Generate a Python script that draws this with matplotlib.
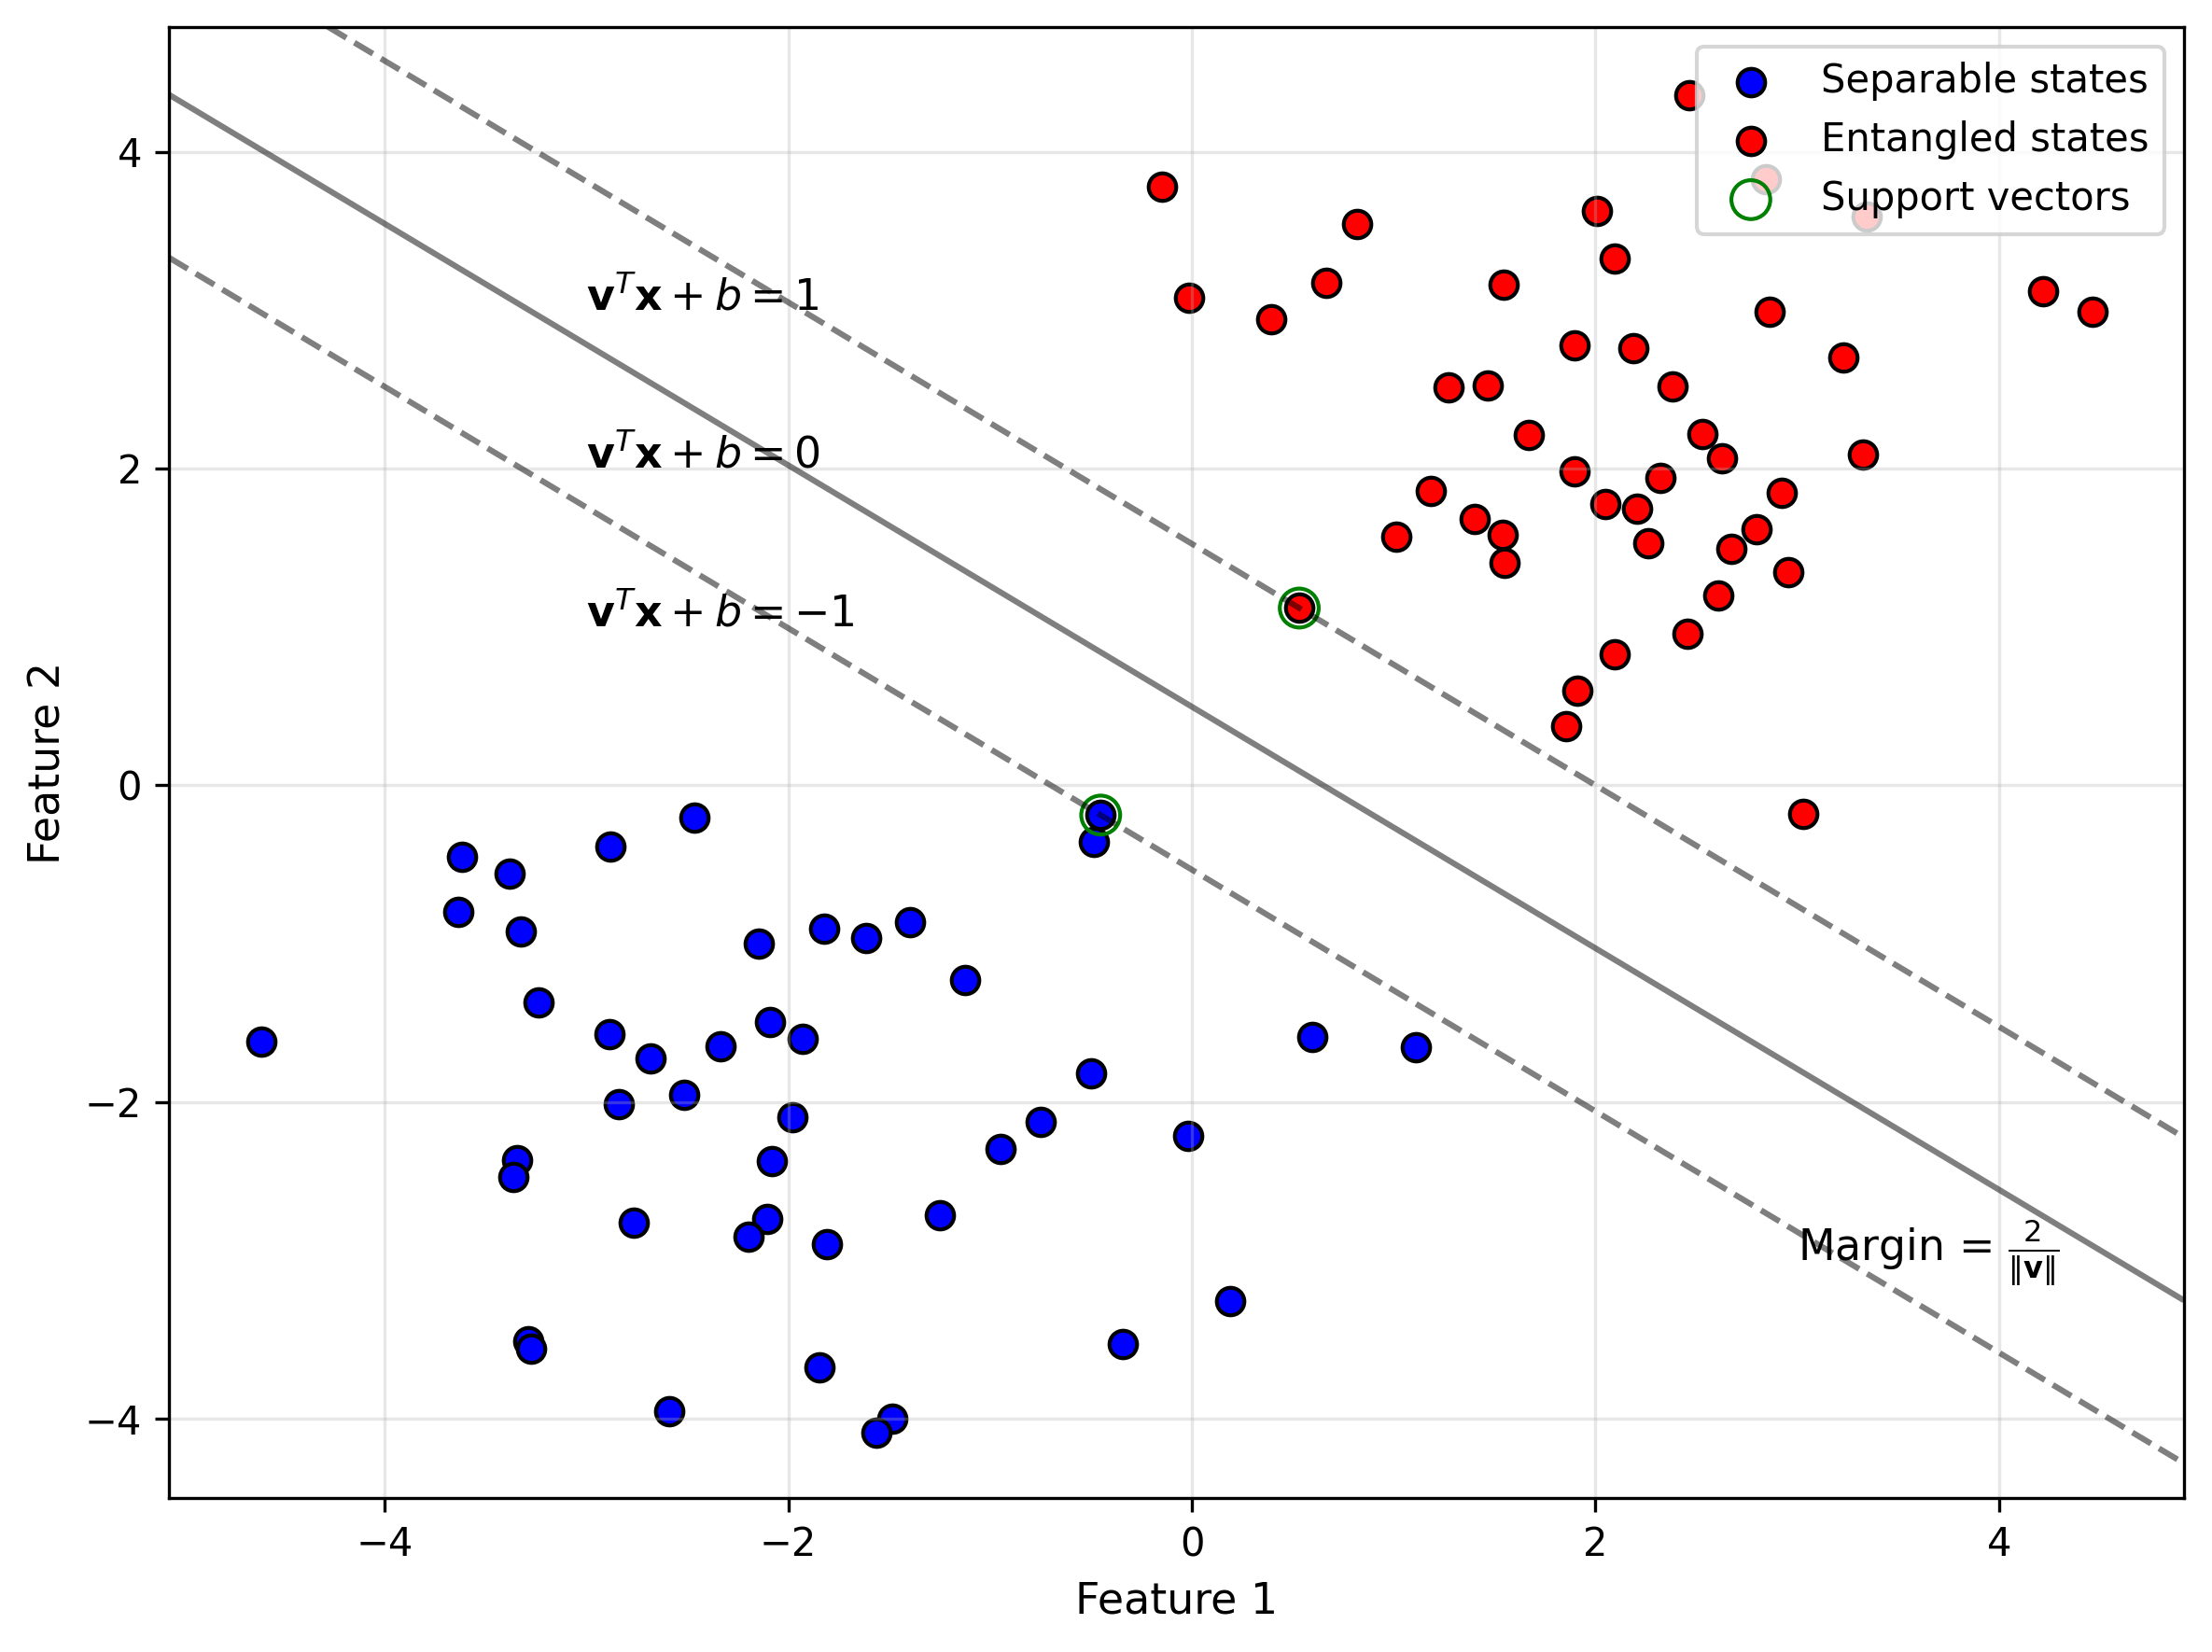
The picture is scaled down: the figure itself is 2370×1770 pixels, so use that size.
import numpy as np
import matplotlib.pyplot as plt

# separable states (class -1)
sep_x = [-3.617, -3.383, -2.882, -3.636, -3.324, -3.236, -2.885, -2.838, -4.611, -3.343,
         -2.464, -2.145, -1.821, -1.613, -1.397, -1.123, -2.089, -1.929, -2.334, -2.681,
         -2.515, -1.980, -2.083, -0.749, -0.947, -0.500, -3.365, -2.764, -2.104, -2.196,
         -1.808, -1.247, -3.291, -3.273, -1.847, -2.588, -1.486, -1.565, -0.452, -0.485,
         0.597, 1.111, -0.020, 0.190, -0.341]
sep_y = [-0.453, -0.556, -0.385, -0.797, -0.925, -1.372, -1.573, -2.015, -1.618, -2.368,
         -0.204, -1.001, -0.907, -0.966, -0.864, -1.229, -1.496, -1.602, -1.648, -1.726,
         -1.956, -2.097, -2.374, -2.127, -2.296, -1.818, -2.473, -2.763, -2.738, -2.850,
         -2.899, -2.714, -3.512, -3.557, -3.675, -3.954, -3.999, -4.087, -0.188, -0.359,
         -1.589, -1.655, -2.215, -3.254, -3.530]

# entangled states (class +1)
ent_x = [-0.147, -0.012, 0.394, 0.666, 0.819, 1.545, 1.895, 1.272, 1.466, 1.671,
         1.898, 1.183, 1.401, 1.540, 1.011, 1.549, 2.008, 2.097, 2.863, 4.219,
         4.461, 2.188, 3.229, 2.382, 2.531, 2.626, 3.325, 2.322, 2.925, 2.050,
         2.206, 2.798, 2.263, 2.673, 2.843, 3.346, 2.466, 2.954, 2.609, 2.456,
         2.097, 1.911, 1.853, 3.030, 0.532]
ent_y = [3.780, 3.078, 2.943, 3.171, 3.544, 3.161, 2.778, 2.513, 2.523, 2.212,
         1.982, 1.859, 1.682, 1.583, 1.570, 1.407, 3.628, 3.324, 2.988, 3.118,
         2.988, 2.758, 2.700, 2.519, 2.218, 2.065, 2.090, 1.943, 1.845, 1.776,
         1.747, 1.615, 1.527, 1.491, 3.825, 3.593, 4.359, 1.346, 1.199, 0.957,
         0.827, 0.598, 0.372, -0.182, 1.119]

# support vectors and the fitted hyperplane
sv_x = [0.532, -0.452]
sv_y = [1.119, -0.188]
w = [0.741, 0.972]
b = -0.482

fig, ax = plt.subplots(figsize=(7.9, 5.9))
fig.subplots_adjust(left=0.0765, right=0.9873, top=0.9838, bottom=0.0931)

ax.scatter(sep_x, sep_y, c='blue', s=50, edgecolors='k', label='Separable states')
ax.scatter(ent_x, ent_y, c='red', s=50, edgecolors='k', label='Entangled states')
ax.scatter(sv_x, sv_y, s=100, facecolors='none', edgecolors='green', linewidth=1,
           label='Support vectors')

xlim = (-5.068, 4.916)
ylim = (-4.501, 4.789)
xx, yy = np.meshgrid(np.linspace(*xlim, 200), np.linspace(*ylim, 200))
zz = w[0] * xx + w[1] * yy + b
ax.contour(xx, yy, zz, levels=[-1, 0, 1], colors='k', alpha=0.5,
           linestyles=['--', '-', '--'])

ax.text(-3, 3, r'$\mathbf{v}^T\mathbf{x} + b = 1$', fontsize=11)
ax.text(-3, 2, r'$\mathbf{v}^T\mathbf{x} + b = 0$', fontsize=11)
ax.text(-3, 1, r'$\mathbf{v}^T\mathbf{x} + b = -1$', fontsize=11)
ax.text(3, -3, r'Margin = $\frac{2}{\|\mathbf{v}\|}$', fontsize=11)

ax.set_xlim(xlim)
ax.set_ylim(ylim)
ax.set_xlabel('Feature 1', fontsize=11)
ax.set_ylabel('Feature 2', fontsize=11)
ax.legend(loc='upper right', fontsize=10)
ax.grid(True, alpha=0.3)

fig.savefig('out.png', dpi=300)
